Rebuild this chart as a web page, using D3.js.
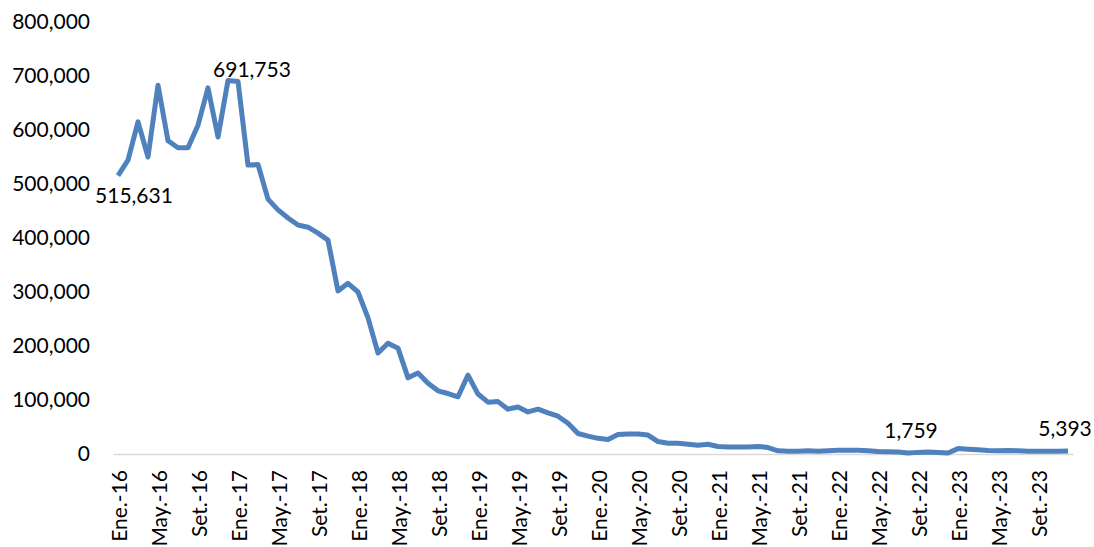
<!DOCTYPE html>
<html>
<head>
<meta charset="utf-8">
<script src="https://cdn.jsdelivr.net/npm/d3@7"></script>
<style>
  body { margin: 0; background: #fff; }
  svg text { font-family: Lato, "Noto Sans", sans-serif; fill: #000; }
</style>
</head>
<body>
<div id="chart-area"><svg></svg></div>
<script>
const monthNames = ["Ene.", "Feb.", "Mar.", "Abr.", "May.", "Jun.", "Jul.", "Ago.", "Set.", "Oct.", "Nov.", "Dic."];
const years = ["16", "17", "18", "19", "20", "21", "22", "23"];
const months = years.flatMap(y => monthNames.map(m => `${m}-${y}`));

const values = [
  515631, 544000, 615000, 550000, 683000, 580000, 567000, 567000, 609000, 678000, 587000, 691753,
  690000, 535000, 536000, 472000, 452000, 437000, 424000, 420000, 409000, 396000, 302000, 316000,
  300000, 252000, 187000, 205000, 196000, 141000, 150000, 131000, 117000, 112000, 106000, 146000,
  111000, 96000, 97000, 83000, 87000, 78000, 83000, 76000, 70000, 57000, 38000, 33000,
  29000, 27000, 36000, 37000, 37000, 35000, 23000, 20000, 20000, 18000, 16000, 18000,
  14000, 13000, 13000, 13000, 14000, 12000, 6000, 5000, 5000, 6000, 5000, 6000,
  7000, 7000, 7000, 6000, 4500, 4000, 3500, 1759, 3000, 3500, 3000, 2000,
  10000, 9000, 8000, 6500, 6000, 6500, 6000, 5000, 5000, 5000, 5000, 5393
];

const yTicks = [0, 100000, 200000, 300000, 400000, 500000, 600000, 700000, 800000];
const shownMonths = months.filter((m, i) => i % 4 === 0);
const labelled = [0, 11, 79, 95];

const chartSize = { width: 1094, height: 547 };
const plot = { left: 113, right: 1073, top: 22, bottom: 454 };

const svg = d3.select("#chart-area svg")
  .attr("width", chartSize.width)
  .attr("height", chartSize.height);

const x = d3.scaleBand().domain(months).range([plot.left, plot.right]);
const cx = m => x(m) + x.bandwidth() / 2;
const y = d3.scaleLinear().domain([0, 800000]).range([plot.bottom, plot.top]);
const fmt = d3.format(",");

// y axis labels (no line, no ticks)
const yAxis = d3.axisLeft(y).tickValues(yTicks).tickFormat(fmt).tickSize(0).tickPadding(0);
const yg = svg.append("g").attr("transform", "translate(90,0)").call(yAxis);
yg.select(".domain").remove();
yg.selectAll("text").style("font-size", "21px").style("font-family", null);

// x axis
const xAxis = d3.axisBottom(x).tickValues(shownMonths).tickSize(0).tickPadding(0);
const xg = svg.append("g").attr("transform", `translate(0,${plot.bottom})`).call(xAxis);
xg.select(".domain").attr("stroke", "#d9d9d9").attr("stroke-width", 1.5);
xg.selectAll("text")
  .style("font-size", "21px")
  .style("font-family", null)
  .attr("text-anchor", "end")
  .attr("dy", null)
  .attr("dominant-baseline", "central")
  .attr("transform", "translate(0,16) rotate(-90)")
  .attr("y", 0)
  .attr("x", 0);

// line
const line = d3.line()
  .x((d, i) => cx(months[i]))
  .y(d => y(d));

svg.append("path")
  .datum(values)
  .attr("fill", "none")
  .attr("stroke", "#4f81bd")
  .attr("stroke-width", 5)
  .attr("stroke-linejoin", "round")
  .attr("d", line);

// data labels
const labelOffset = { 0: [16, 27], 11: [24, -3], 79: [3, -15], 95: [-3, -15] };
svg.append("g").selectAll("text")
  .data(labelled)
  .join("text")
  .attr("x", i => cx(months[i]) + labelOffset[i][0])
  .attr("y", i => y(values[i]) + labelOffset[i][1])
  .attr("text-anchor", "middle")
  .style("font-size", "21px")
  .text(i => fmt(values[i]));
</script>
</body>
</html>
